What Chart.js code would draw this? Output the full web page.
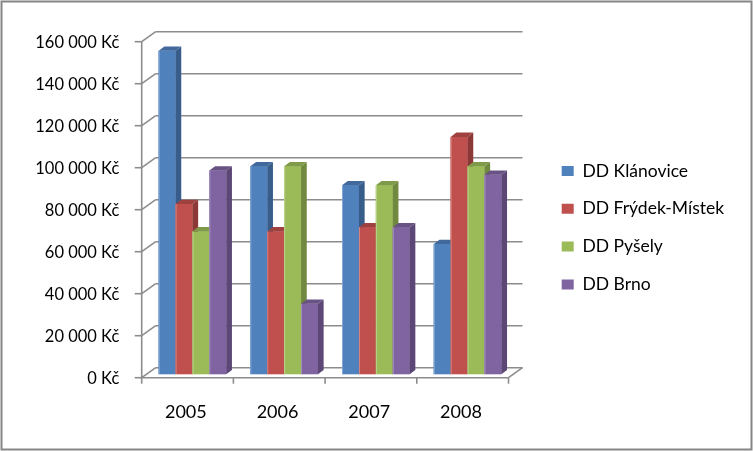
<!DOCTYPE html>
<html>
<head>
<meta charset="utf-8">
<script src="https://cdn.jsdelivr.net/npm/chart.js@4.4.1/dist/chart.umd.min.js"></script>
<style>
  html, body { margin: 0; padding: 0; background: #fff; }
  canvas { display: block; }
</style>
</head>
<body>
<canvas id="chart" width="753" height="451"></canvas>
<script>
// data
var categories = ['2005', '2006', '2007', '2008'];
var seriesNames = ['DD Klánovice', 'DD Frýdek-Místek', 'DD Pyšely', 'DD Brno'];
var klanovice = [154000, 99000, 90000, 62000];
var frydekMistek = [81000, 68000, 70000, 113000];
var pysely = [68000, 99000, 90000, 99000];
var brno = [97000, 33500, 70000, 95000];
var yMax = 160000;
var yStep = 20000;

var frontColors = ['#4F81BD', '#C0504D', '#9BBB59', '#8064A2'];
var sideColors = ['#385D8A', '#8C3836', '#71893F', '#5C4776'];
var topColors = ['#41699B', '#9E413F', '#7F9A49', '#695284'];
var edgeColors = ['#86A8D6', '#D88582', '#BDD48E', '#A691C0'];

// 3D offsets (box front / back plane relative to the bar plane, bar depth)
var FRONT = {x: -4.9, y: 3.5};
var BACK = {x: 9.1, y: -6.5};
var BAR_DEPTH = {x: 5.7, y: -4.3};

var LEGEND_FONT = 17.5;
var LEGEND_PAD = 37.8 - LEGEND_FONT;
var LEGEND_BOX_LEFT = 561.7;
var PLOT_RIGHT = 513.4;

function fmt(v) {
	return String(v).replace(/\B(?=(\d{3})+(?!\d))/g, ' ') + ' Kč';
}

function line(ctx, x1, y1, x2, y2) {
	ctx.beginPath();
	ctx.moveTo(x1, y1);
	ctx.lineTo(x2, y2);
	ctx.stroke();
}

function poly(ctx, pts, color) {
	ctx.beginPath();
	ctx.moveTo(pts[0][0], pts[0][1]);
	for (var i = 1; i < pts.length; i++) ctx.lineTo(pts[i][0], pts[i][1]);
	ctx.closePath();
	ctx.fillStyle = color;
	ctx.fill();
}

var box3d = {
	id: 'box3d',
	beforeDraw: function(chart) {
		var ctx = chart.ctx;
		ctx.save();
		ctx.fillStyle = '#fff';
		ctx.fillRect(0, 0, chart.width, chart.height);
		ctx.strokeStyle = '#868686';
		ctx.lineWidth = 2;
		ctx.strokeRect(1.5, 1.5, chart.width - 3, chart.height - 3);
		ctx.restore();
	},
	beforeDatasetsDraw: function(chart) {
		var ctx = chart.ctx, a = chart.chartArea;
		var ys = chart.scales.y, xs = chart.scales.x;
		ctx.save();
		ctx.strokeStyle = '#8c8c8c';
		ctx.lineWidth = 1.6;
		ys.ticks.forEach(function(t) {
			var py = ys.getPixelForValue(t.value);
			line(ctx, a.left + BACK.x, py + BACK.y, a.right + BACK.x, py + BACK.y);
			line(ctx, a.left + FRONT.x, py + FRONT.y, a.left + BACK.x, py + BACK.y);
			line(ctx, a.left + FRONT.x - 7, py + FRONT.y, a.left + FRONT.x, py + FRONT.y);
		});
		// front axis + floor
		line(ctx, a.left + FRONT.x, a.top + FRONT.y, a.left + FRONT.x, a.bottom + FRONT.y);
		line(ctx, a.left + FRONT.x, a.bottom + FRONT.y, a.right + FRONT.x, a.bottom + FRONT.y);
		line(ctx, a.right + FRONT.x, a.bottom + FRONT.y, a.right + BACK.x, a.bottom + BACK.y);
		for (var i = 0; i <= categories.length; i++) {
			var px = xs.getPixelForValue(i - 0.5) + FRONT.x;
			line(ctx, px, a.bottom + FRONT.y, px, a.bottom + FRONT.y + 6);
		}
		ctx.restore();
	},
	// redraw bars series by series so each later bar covers the side of the one before
	afterDatasetsDraw: function(chart) {
		var ctx = chart.ctx, a = chart.chartArea;
		ctx.save();
		for (var k = 0; k < chart.data.datasets.length; k++) {
			var meta = chart.getDatasetMeta(k);
			meta.data.forEach(function(bar) {
				bar.draw(ctx, a);
				var p = bar.getProps(['x', 'y', 'base', 'width'], true);
				var l = p.x - p.width / 2, r = p.x + p.width / 2;
				var dx = BAR_DEPTH.x, dy = BAR_DEPTH.y;
				poly(ctx, [[r, p.y], [r + dx, p.y + dy], [r + dx, p.base + dy], [r, p.base]], sideColors[k]);
				poly(ctx, [[l, p.y], [l + dx, p.y + dy], [r + dx, p.y + dy], [r, p.y]], topColors[k]);
				ctx.strokeStyle = edgeColors[k];
				ctx.lineWidth = 1;
				line(ctx, l + 0.5, p.y, l + 0.5, p.base);
			});
		}
		ctx.restore();
	}
};

// legend text width decides the right padding so the plot keeps its place
var mctx = document.createElement('canvas').getContext('2d');
mctx.font = LEGEND_FONT + 'px Lato';
var maxW = 0;
seriesNames.forEach(function(n) { maxW = Math.max(maxW, mctx.measureText(n).width); });
var padRight = Math.max(0, 753 - LEGEND_BOX_LEFT - 10 - (12 + LEGEND_FONT / 2 + maxW));

var allSeries = [klanovice, frydekMistek, pysely, brno];
var datasets = allSeries.map(function(vals, i) {
	return {
		label: seriesNames[i],
		data: vals,
		backgroundColor: frontColors[i],
		borderWidth: 0,
		categoryPercentage: 0.737,
		barPercentage: 1
	};
});

Chart.defaults.font.family = 'Lato';
Chart.defaults.color = '#000';

var ctx = document.getElementById('chart').getContext('2d');
var chart = new Chart(ctx, {
	type: 'bar',
	data: {
		labels: categories,
		datasets: datasets
	},
	plugins: [box3d],
	options: {
		responsive: false,
		animation: false,
		devicePixelRatio: 1,
		layout: {
			padding: {top: 4.4, bottom: 0, left: 0, right: padRight}
		},
		plugins: {
			legend: {
				position: 'right',
				maxWidth: 400,
				labels: {
					boxWidth: 12,
					boxHeight: 10,
					padding: LEGEND_PAD,
					color: '#000',
					font: {size: LEGEND_FONT}
				}
			},
			tooltip: {enabled: false}
		},
		scales: {
			x: {
				grid: {display: false, drawTicks: false},
				border: {display: false},
				ticks: {color: '#000', font: {size: 18}, padding: 26.7, labelOffset: -6.6, maxRotation: 0, autoSkip: false},
				afterFit: function(s) { s.height = 76.8; }
			},
			y: {
				min: 0,
				max: yMax,
				grid: {display: false, drawTicks: false},
				border: {display: false},
				ticks: {stepSize: yStep, color: '#000', font: {size: 16.5}, padding: 27.3, labelOffset: 4, callback: fmt},
				afterFit: function(s) { s.width = 146.6; }
			},
			xTop: {
				type: 'category',
				position: 'top',
				labels: categories,
				grid: {display: false, drawTicks: false},
				border: {display: false},
				ticks: {display: false},
				afterFit: function(s) { s.height = 33.8; }
			},
			yRight: {
				type: 'linear',
				position: 'right',
				grid: {display: false, drawTicks: false},
				border: {display: false},
				ticks: {display: false},
				afterFit: function(s) { s.width = LEGEND_BOX_LEFT - LEGEND_PAD - PLOT_RIGHT; }
			}
		}
	}
});
</script>
</body>
</html>
